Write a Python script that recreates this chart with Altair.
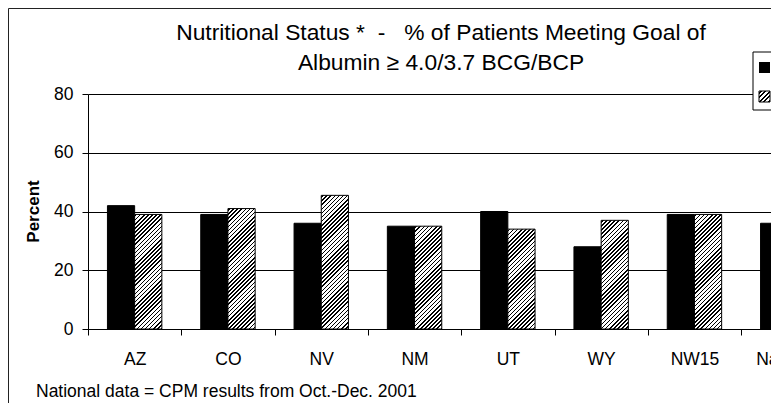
import altair as alt
import pandas as pd

# ---------------- data ----------------
states = ["AZ", "CO", "NV", "NM", "UT", "WY", "NW15", "National"]
series = ["2000", "2001"]
vals_first = [42, 39, 36, 35, 40, 28, 39, 36]
vals_second = [39, 41, 45.5, 35, 34, 37, 39, 38]
y_ticks = [0, 20, 40, 60, 80]
NB = "\u00a0"
title_lines = ["Nutritional Status *" + NB + " -" + NB * 3 + "% of Patients Meeting Goal of",
               "Albumin \u2265 4.0/3.7 BCG/BCP"]
y_title = "Percent"
footnote = "National data = CPM results from Oct.-Dec. 2001"

# ---------------- layout / style ----------------
FONT = "Liberation Sans"
STEP = 93.3
RANGE = STEP * len(states)
W = 683          # visible plot width (chart is cut at the right, as in the original)
H = 235
YMAX = 80
OUTER = 0.715
BAR_W = STEP / (2 + 2 * OUTER)

df = pd.DataFrame({
    "state": states * 2,
    "series": [series[0]] * len(states) + [series[1]] * len(states),
    "value": vals_first + vals_second,
})


def hatch(w, h, period=2.9, thick=1.15):
    """Diagonal '////' hatch as a hard-stop linear gradient for a w x h box."""
    T = (w + h) / 2 ** 0.5
    c = (w + h) / (w * w + h * h)
    stops = [alt.GradientStop(offset=0, color="white")]
    s = 0.8
    while s < T:
        a = min(s / T, 1)
        b = min((s + thick) / T, 1)
        stops += [alt.GradientStop(offset=a, color="white"),
                  alt.GradientStop(offset=a, color="black"),
                  alt.GradientStop(offset=b, color="black"),
                  alt.GradientStop(offset=b, color="white")]
        s += period
    stops.append(alt.GradientStop(offset=1, color="white"))
    return alt.LinearGradient(gradient="linear", stops=stops,
                              x1=0, y1=0, x2=c * w, y2=c * h)


x_enc = alt.X("state:N", sort=states,
              scale=alt.Scale(domain=states, range=[0, RANGE],
                              paddingInner=0, paddingOuter=0),
              axis=alt.Axis(title=None, tickBand="extent", tickSize=6,
                            labelPadding=15, labelFontSize=17.5, labelFont=FONT,
                            labelColor="black", labelAngle=0, labelBaseline="top",
                            domainColor="black", tickColor="black", grid=False))
xo_enc = alt.XOffset("series:N",
                     scale=alt.Scale(domain=series, paddingInner=0, paddingOuter=OUTER))
y_enc = alt.Y("value:Q", scale=alt.Scale(domain=[0, YMAX]),
              axis=alt.Axis(title=None, values=y_ticks, tickSize=6, labelPadding=9,
                            labelFontSize=17.5, labelFont=FONT, labelColor="black",
                            grid=True, gridColor="black", domainColor="black",
                            tickColor="black"))

base = alt.Chart(df).encode(x=x_enc, xOffset=xo_enc, y=y_enc)

layers = [
    base.transform_filter(alt.datum.series == series[0])
        .mark_bar(color="black", stroke="black", strokeWidth=1)
]
for s, v in zip(states, vals_second):
    h = v * H / YMAX
    layers.append(
        base.transform_filter((alt.datum.series == series[1]) & (alt.datum.state == s))
            .mark_bar(fill=hatch(BAR_W, h), stroke="black", strokeWidth=1)
    )

one = pd.DataFrame({"k": [0]})

# titles / annotations
layers.append(alt.Chart(one).mark_text(text=title_lines[0], font=FONT, fontSize=22.8,
                                       align="center", baseline="alphabetic", color="black")
              .encode(x=alt.value(353), y=alt.value(-54)))
layers.append(alt.Chart(one).mark_text(text=title_lines[1], font=FONT, fontSize=22.8,
                                       align="center", baseline="alphabetic", color="black")
              .encode(x=alt.value(353), y=alt.value(-24)))
layers.append(alt.Chart(one).mark_text(text=y_title, font=FONT, fontSize=17, fontWeight="bold",
                                       angle=270, align="center", baseline="alphabetic",
                                       color="black")
              .encode(x=alt.value(-49), y=alt.value(H / 2)))
layers.append(alt.Chart(one).mark_text(text=footnote, font=FONT, fontSize=17.5,
                                       align="left", baseline="alphabetic", color="black")
              .encode(x=alt.value(-52), y=alt.value(302.7)))

# legend (box partly outside the frame, as in the original)
layers.append(alt.Chart(one).mark_rect(fill="white", stroke="black", strokeWidth=1)
              .encode(x=alt.value(665), x2=alt.value(760), y=alt.value(-42), y2=alt.value(16)))
layers.append(alt.Chart(one).mark_rect(fill="black")
              .encode(x=alt.value(671), x2=alt.value(682), y=alt.value(-32), y2=alt.value(-21)))
layers.append(alt.Chart(one).mark_rect(fill=hatch(11, 11, period=3.2, thick=1.4),
                                       stroke="black", strokeWidth=1)
              .encode(x=alt.value(671), x2=alt.value(682), y=alt.value(-3), y2=alt.value(8)))
layers.append(alt.Chart(one).mark_text(text=series[0], font=FONT, fontSize=17.5,
                                       align="left", baseline="middle", color="black")
              .encode(x=alt.value(684), y=alt.value(-26.5)))
layers.append(alt.Chart(one).mark_text(text=series[1], font=FONT, fontSize=17.5,
                                       align="left", baseline="middle", color="black")
              .encode(x=alt.value(684), y=alt.value(2.5)))

# frame lines
layers.append(alt.Chart(one).mark_rule(color="#222222", strokeWidth=1)
              .encode(x=alt.value(-79.5), y=alt.value(-85.5), y2=alt.value(310)))
layers.append(alt.Chart(one).mark_rule(color="#222222", strokeWidth=1)
              .encode(x=alt.value(-79.5), x2=alt.value(700), y=alt.value(-85.5)))

chart = alt.layer(*layers).properties(
    width=W, height=H,
    autosize=alt.AutoSizeParams(type="none"),
    padding={"left": 80, "top": 86, "right": 0, "bottom": 74},
).configure_view(strokeWidth=0)

chart.save("out.html", embed_options={"renderer": "svg", "actions": False})
